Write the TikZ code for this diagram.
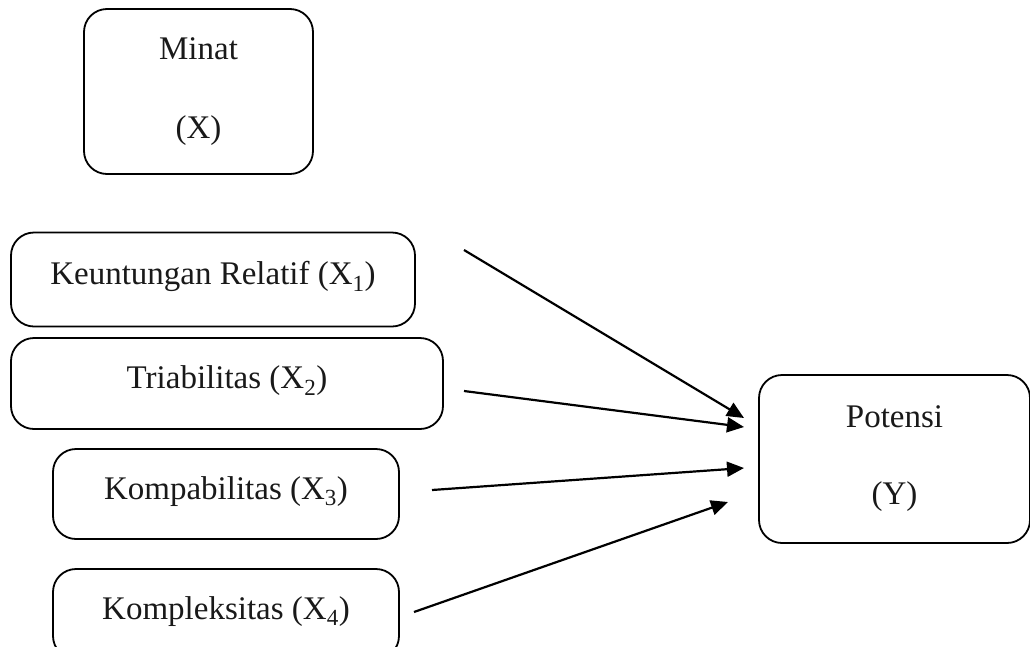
\documentclass[tikz,border=0pt]{standalone}
\usepackage{fontspec}
\setmainfont{Liberation Serif}
\usetikzlibrary{arrows.meta}
\begin{document}
\begin{tikzpicture}[x=1pt,y=-1pt,
  box/.style={draw=black,line width=1.8pt,rounded corners=23pt,inner sep=0pt,
    font=\fontsize{33}{40}\selectfont,text=black!90},
  onel/.style={box,text height=23pt,text depth=13pt},
  twol/.style={box,align=center},
  conn/.style={line width=2.2pt,-{Triangle[length=17pt,width=15pt]}}]
\useasboundingbox (0,0) rectangle (1030,646);
\node[twol,minimum width=229pt,minimum height=165pt] (minat) at (198.5,91.5)
  {Minat\\[39pt](X)};
\node[onel,minimum width=404pt,minimum height=94pt] (k1) at (213,279.5)
  {Keuntungan Relatif (X\textsubscript{1})};
\node[onel,minimum width=432pt,minimum height=91pt] (k2) at (227,383.5)
  {Triabilitas (X\textsubscript{2})};
\node[onel,minimum width=346pt,minimum height=90pt] (k3) at (226,494)
  {Kompabilitas (X\textsubscript{3})};
\node[onel,minimum width=346pt,minimum height=90pt] (k4) at (226,614)
  {Kompleksitas (X\textsubscript{4})};
\node[twol,minimum width=271pt,minimum height=168pt] (pot) at (894.5,459)
  {Potensi\\[37pt](Y)};
\coordinate (s1) at (464,250);
\coordinate (e1) at (744,418);
\coordinate (s2) at (464,391);
\coordinate (e2) at (744,427);
\coordinate (s3) at (432,490);
\coordinate (e3) at (744,468);
\coordinate (s4) at (414,612);
\coordinate (e4) at (728,502);
\draw[conn] (s1) -- (e1);
\draw[conn] (s2) -- (e2);
\draw[conn] (s3) -- (e3);
\draw[conn] (s4) -- (e4);
\end{tikzpicture}
\end{document}
